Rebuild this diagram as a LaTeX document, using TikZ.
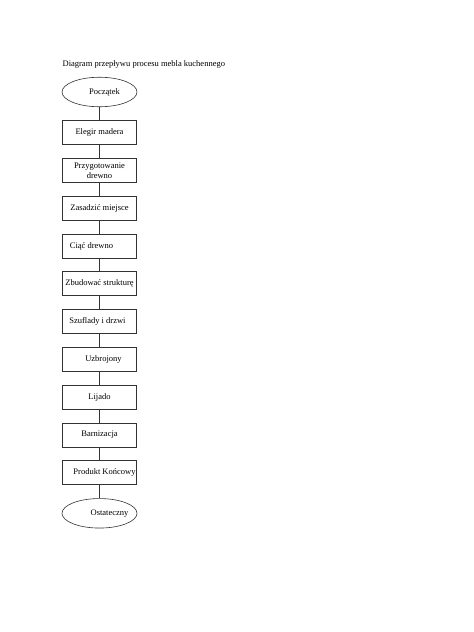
\documentclass[tikz,border=0pt]{standalone}
\usepackage{fontspec}
\setmainfont{Liberation Serif}
\usepackage{tikz}
\usetikzlibrary{positioning, shapes.geometric}
\tikzstyle{stepbox} = [rectangle, draw, minimum width=74pt, minimum height=24pt, inner sep=1pt, align=center]
\tikzstyle{terminal} = [ellipse, draw, minimum width=75pt, minimum height=29.5pt, inner sep=0pt]
\tikzstyle{link} = [line width=0.6pt, draw=black!80]

\begin{document}
\begin{tikzpicture}[x=1pt, y=-1pt, node distance=13.2pt, every node/.style={font=\fontsize{8.5}{10}\selectfont, line width=0.6pt, draw=black!80}]
  \useasboundingbox (0,0) rectangle (474,632);

  % Title
  \node[draw=none, anchor=west] (title) at (59,64) {Diagram przepływu procesu mebla kuchennego};

  % Process steps
  \node[terminal] (start) at (99.5,92) {\makebox[0pt]{\hspace*{10pt}Początek}};
  \node[stepbox, below=of start] (s1) {Elegir madera};
  \node[stepbox, below=of s1] (s2) {Przygotowanie\\drewno};
  \node[stepbox, below=of s2] (s3) {Zasadzić miejsce};
  \node[stepbox, below=of s3] (s4) {\makebox[0pt]{\hspace*{-16pt}Ciąć drewno}};
  \node[stepbox, below=of s4] (s5) {Zbudować strukturę};
  \node[stepbox, below=of s5] (s6) {\makebox[0pt]{\hspace*{-4pt}Szuflady i drzwi}};
  \node[stepbox, below=of s6] (s7) {\makebox[0pt]{\hspace*{8pt}Uzbrojony}};
  \node[stepbox, below=of s7] (s8) {Lijado};
  \node[stepbox, below=of s8] (s9) {Barnizacja};
  \node[stepbox, below=of s9] (s10) {\makebox[0pt]{\hspace*{10pt}Produkt Końcowy}};
  \node[terminal, below=of s10] (stop) {\makebox[0pt]{\hspace*{20pt}Ostateczny}};

  % Connectors
  \draw[link] (start) -- (s1);
  \draw[link] (s1) -- (s2);
  \draw[link] (s2) -- (s3);
  \draw[link] (s3) -- (s4);
  \draw[link] (s4) -- (s5);
  \draw[link] (s5) -- (s6);
  \draw[link] (s6) -- (s7);
  \draw[link] (s7) -- (s8);
  \draw[link] (s8) -- (s9);
  \draw[link] (s9) -- (s10);
  \draw[link] (s10) -- (stop);
\end{tikzpicture}
\end{document}
